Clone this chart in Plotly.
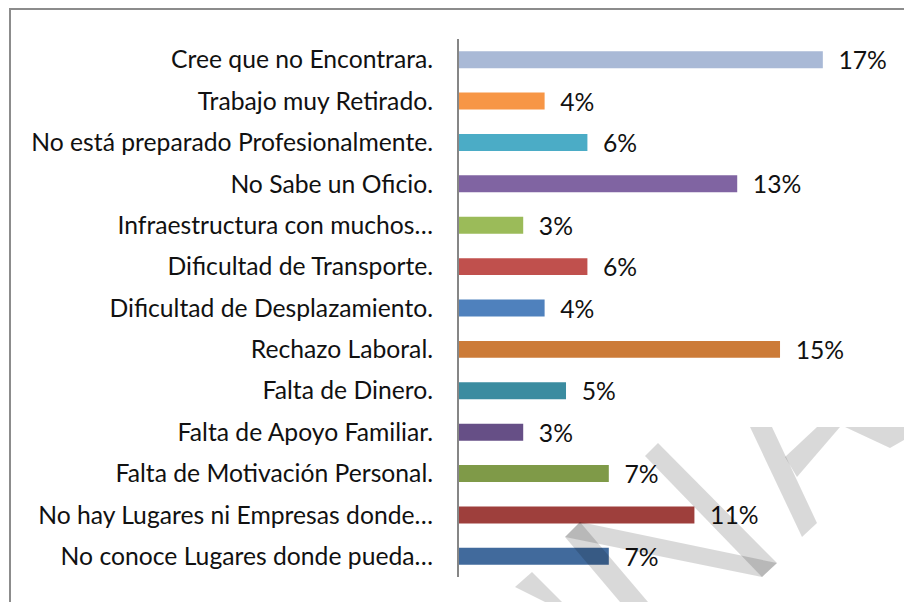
import plotly.graph_objects as go

categories = [
    "Cree que no Encontrara.",
    "Trabajo muy Retirado.",
    "No está preparado Profesionalmente.",
    "No Sabe un Oficio.",
    "Infraestructura con muchos…",
    "Dificultad de Transporte.",
    "Dificultad de Desplazamiento.",
    "Rechazo Laboral.",
    "Falta de Dinero.",
    "Falta de Apoyo Familiar.",
    "Falta de Motivación Personal.",
    "No hay Lugares ni Empresas donde…",
    "No conoce Lugares donde pueda…",
]
values = [17, 4, 6, 13, 3, 6, 4, 15, 5, 3, 7, 11, 7]
colors = [
    "#A9B9D6", "#F79646", "#4BACC6", "#8064A2", "#9BBB59", "#C0504D", "#4F81BD",
    "#CC7B38", "#3B8CA0", "#664F86", "#7F9A48", "#9E3F3C", "#416A9C",
]

FONT = "Lato"
FS = 24.7

# layout geometry (pixels)
W, H = 904, 602
ML, MR, MT, MB = 459, 45, 39, 25
PW, PH = W - ML - MR, H - MT - MB


def px2paper(px, py):
    return (px - ML) / PW, (H - MB - py) / PH


# decorative watermark strokes (page pixel coordinates)
watermark = [
    [(515, 587), (532, 572), (562, 602), (545, 602)],
    [(565, 537), (580, 522), (648, 602), (620, 602)],
    [(565, 537), (580, 522), (777, 563), (762, 577)],
    [(645, 456), (658, 443), (777, 563), (762, 577)],
    [(750, 427), (772, 427), (817, 523), (802, 537)],
    [(785, 457), (817, 427), (840, 427), (797, 477)],
    [(845, 427), (904, 427), (904, 440), (890, 448)],
]


def poly_path(pts):
    segs = []
    for i, (x, y) in enumerate(pts):
        xp, yp = px2paper(x, y)
        segs.append(("M" if i == 0 else "L") + f" {xp:.5f},{yp:.5f}")
    return " ".join(segs) + " Z"


fig = go.Figure(go.Bar(
    y=categories,
    x=values,
    orientation="h",
    marker=dict(color=colors, line=dict(width=0)),
    text=["\u00a0\u00a0" + f"{v}%" for v in values],
    textposition="outside",
    constraintext="none",
    textfont=dict(family=FONT, size=FS, color="#111111"),
    cliponaxis=False,
    width=0.41,
    hoverinfo="skip",
))

shapes = [dict(
    type="rect", xref="paper", yref="paper",
    x0=(10 - ML) / PW, x1=1.3, y0=-0.2, y1=(H - MB - 9) / PH,
    line=dict(color="#8c8c8c", width=2), fillcolor="rgba(0,0,0,0)", layer="below",
)]
for pts in watermark:
    shapes.append(dict(
        type="path", xref="paper", yref="paper", path=poly_path(pts),
        fillcolor="rgba(0,0,0,0.15)", line=dict(width=0), layer="above",
    ))

fig.update_layout(
    width=W, height=H,
    margin=dict(l=ML, r=MR, t=MT, b=MB),
    paper_bgcolor="white", plot_bgcolor="white",
    showlegend=False,
    font=dict(family=FONT, size=FS, color="#111111"),
    xaxis=dict(range=[0, 18.69], visible=False, fixedrange=True),
    yaxis=dict(
        autorange="reversed",
        showline=True, linecolor="#868686", linewidth=2,
        ticks="", showgrid=False, zeroline=False,
        ticklabelstandoff=19,
        automargin=False, fixedrange=True,
        tickfont=dict(family=FONT, size=FS, color="#111111"),
    ),
    shapes=shapes,
)

fig.write_html(
    "out.html",
    config={"displayModeBar": False, "staticPlot": True},
    post_script="document.body.style.margin='0';document.body.style.overflow='hidden';",
)
